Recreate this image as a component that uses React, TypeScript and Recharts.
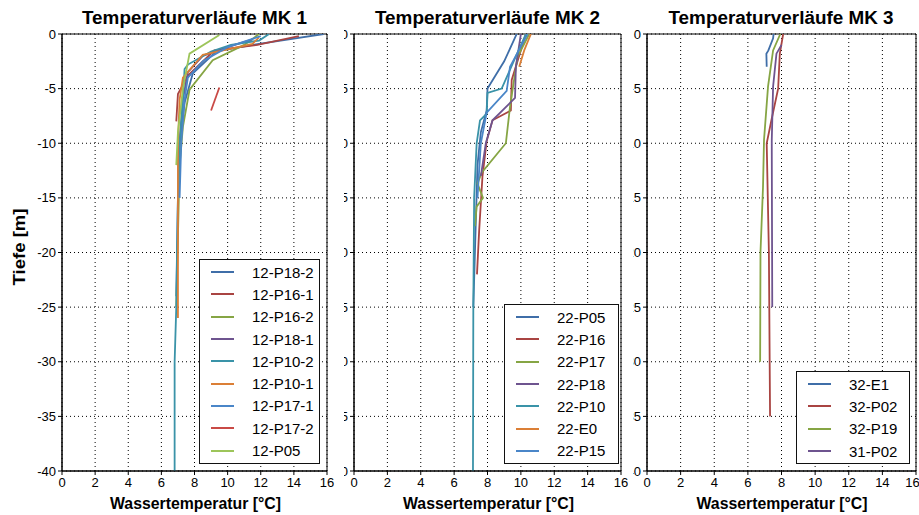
import React from "react";
import { CartesianGrid, Legend, Line, LineChart, ReferenceArea, XAxis, YAxis } from "recharts";

type Pt = [number, number];

const X_TICKS = [0, 2, 4, 6, 8, 10, 12, 14, 16];
const Y_TICKS = [0, -5, -10, -15, -20, -25, -30, -35, -40];
const TITLES = ["Temperaturverläufe MK 1", "Temperaturverläufe MK 2", "Temperaturverläufe MK 3"];
const X_LABEL = "Wassertemperatur [°C]";
const Y_LABEL = "Tiefe [m]";

// MK 1: [temperature °C, depth m]
const MK1_NAMES = ["12-P18-2", "12-P16-1", "12-P16-2", "12-P18-1", "12-P10-2", "12-P10-1", "12-P17-1", "12-P17-2", "12-P05"];
const P12_18_2: Pt[] = [[15.8, 0], [11.9, -0.9], [9.3, -1.6], [7.9, -3.6], [7.4, -6.3], [7.1, -10], [7.0, -15], [6.9, -24]];
const P12_16_1: Pt[] = [[14.3, -0.2], [11.8, -1.0], [9.2, -1.5], [7.6, -3.8], [7.0, -5.5], [6.9, -8]];
const P12_16_2: Pt[] = [[11.9, 0], [11.0, -1.0], [9.1, -2.4], [7.7, -5.1], [7.3, -8.5], [7.1, -12], [6.9, -25]];
const P12_18_1: Pt[] = [[11.5, -0.5], [10.0, -1.2], [8.5, -2.0], [7.6, -3.5], [7.3, -6], [7.1, -10], [7.0, -12]];
const P12_10_2: Pt[] = [[12.5, 0], [11.9, -0.6], [10.2, -1.0], [9.0, -1.6], [7.6, -2.8], [7.4, -3.2], [7.3, -6], [7.1, -10], [7.0, -15], [6.9, -25], [6.8, -30], [6.8, -40]];
const P12_10_1: Pt[] = [[11.9, -0.3], [11.5, -0.9], [8.5, -1.9], [7.3, -4.0], [7.1, -6], [7.0, -10], [7.0, -26]];
const P12_17_1: Pt[] = [[12.0, -0.2], [10.0, -1.2], [8.5, -2.5], [7.6, -4], [7.4, -6], [7.2, -10], [7.1, -15]];
const P12_17_2: Pt[] = [[9.5, -4.9], [9.0, -7.0]];
const P12_05: Pt[] = [[9.5, -0.1], [7.7, -1.8], [7.3, -5], [7.0, -9], [6.9, -12]];

// MK 2
const MK2_NAMES = ["22-P05", "22-P16", "22-P17", "22-P18", "22-P10", "22-E0", "22-P15"];
const P22_05: Pt[] = [[9.75, 0], [9.0, -2.5], [8.0, -5.0], [7.95, -7], [7.6, -9], [7.4, -12], [7.15, -25]];
const P22_16: Pt[] = [[10.3, 0], [9.9, -2], [9.45, -4.2], [9.4, -7.0], [8.3, -7.9], [7.95, -9.8], [7.7, -13], [7.5, -18], [7.37, -22]];
const P22_17: Pt[] = [[10.5, 0], [9.8, -2.1], [9.35, -6.65], [9.1, -10.0], [7.65, -12.7], [7.4, -13.7], [7.73, -15.0], [7.35, -15.8], [7.25, -17.6]];
const P22_18: Pt[] = [[10.0, 0], [9.7, -3], [9.65, -5.85], [8.3, -7.9], [7.9, -10], [7.6, -13]];
const P22_10: Pt[] = [[10.3, 0], [9.6, -2.4], [8.85, -5.0], [8.0, -5.4], [7.95, -7.3], [7.55, -7.9], [7.35, -10], [7.2, -15], [7.15, -25], [7.13, -40]];
const P22_E0: Pt[] = [[10.6, 0], [10.2, -1.5], [9.9, -3]];
const P22_15: Pt[] = [[10.4, 0], [9.35, -3], [9.15, -5.2], [7.95, -7.2], [7.6, -10], [7.4, -15]];

// MK 3
const MK3_NAMES = ["32-E1", "32-P02", "32-P19", "31-P02"];
const P32_E1: Pt[] = [[7.53, 0], [7.5, -0.4], [7.22, -1.5], [7.1, -1.8], [7.12, -3.0]];
const P32_P02: Pt[] = [[8.1, 0], [7.9, -1.8], [7.8, -5.0], [7.4, -7.9], [7.12, -10], [7.25, -20], [7.32, -35]];
const P32_P19: Pt[] = [[7.93, 0], [7.5, -1.5], [7.2, -4.8], [6.96, -9.7], [6.9, -14], [6.75, -20], [6.73, -30]];
const P31_P02: Pt[] = [[8.0, -1.0], [7.7, -1.8], [7.5, -4.8], [7.42, -9.8], [7.45, -25]];

const COLORS = ["#3f6ea8", "#a94442", "#86a544", "#6e548f", "#3a93a8", "#db7f36", "#4a86c8", "#c94a46", "#9dc55a"];

const FONT = '"Liberation Sans", Arial, sans-serif';
const TICK = { fill: "#000", fontSize: 13, fontFamily: FONT };

type PanelProps = {
  names: string[];
  series: Pt[][];
  left: number;
  width: number;
  mLeft: number;
  mRight: number;
  z: number;
  legend: { left: number; top: number; width: number };
};

function LegendBox({ payload, names }: any) {
  const items = [...(payload ?? [])].sort((a: any, b: any) => names.indexOf(a.value) - names.indexOf(b.value));
  return (
    <div style={{ border: "1px solid #111", background: "#fff", padding: "1px 0", fontFamily: FONT }}>
      {items.map((p: any) => (
        <div key={p.value} style={{ height: 22.3, display: "flex", alignItems: "center" }}>
          <span style={{ display: "inline-block", width: 23, height: 2, background: p.color, marginLeft: 11 }} />
          <span style={{ fontSize: 15, marginLeft: 18, color: "#000" }}>{p.value}</span>
        </div>
      ))}
    </div>
  );
}

function Panel({ names, series, left, width, mLeft, mRight, z, legend }: PanelProps) {
  return (
    <div style={{ position: "absolute", left, top: 0, width, height: 515, background: "#fff", zIndex: z }}>
      <LineChart width={width} height={515} margin={{ top: 34, right: mRight, bottom: 0, left: mLeft }}>
        <CartesianGrid stroke="#000" strokeDasharray="1 3" horizontalValues={Y_TICKS} verticalValues={X_TICKS} />
        <XAxis
          type="number"
          dataKey="t"
          domain={[0, 16]}
          ticks={X_TICKS}
          allowDataOverflow
          height={44}
          tick={TICK}
          tickSize={4}
          tickMargin={3}
          stroke="#000"
        />
        <YAxis
          type="number"
          dataKey="d"
          domain={[-40, 0]}
          ticks={Y_TICKS}
          allowDataOverflow
          width={32}
          tick={TICK}
          tickSize={4}
          tickMargin={2}
          stroke="#000"
        />
        <ReferenceArea x1={0} x2={16} y1={-40} y2={0} fill="none" stroke="#000" strokeWidth={1} />
        {series.map((pts, i) => (
          <Line
            key={names[i]}
            name={names[i]}
            data={pts.map(([t, d]) => ({ t, d }))}
            dataKey="d"
            type="linear"
            stroke={COLORS[i]}
            strokeWidth={1.8}
            dot={false}
            isAnimationActive={false}
          />
        ))}
        <Legend
          layout="vertical"
          verticalAlign="middle"
          align="center"
          content={<LegendBox names={names} />}
          wrapperStyle={{ left: legend.left, top: legend.top, width: legend.width }}
        />
      </LineChart>
    </div>
  );
}

export default function App() {
  const centers = [194.5, 487.5, 781];
  return (
    <div style={{ position: "absolute", left: 0, top: 0, width: 919, height: 515, background: "#fff", overflow: "hidden" }}>
      <Panel
        names={MK1_NAMES}
        series={[P12_18_2, P12_16_1, P12_16_2, P12_18_1, P12_10_2, P12_10_1, P12_17_1, P12_17_2, P12_05]}
        left={0}
        width={344}
        mLeft={30}
        mRight={17}
        z={3}
        legend={{ left: 199, top: 259, width: 121 }}
      />
      <Panel
        names={MK2_NAMES}
        series={[P22_05, P22_16, P22_17, P22_18, P22_10, P22_E0, P22_15]}
        left={310}
        width={323}
        mLeft={12}
        mRight={12}
        z={2}
        legend={{ left: 194, top: 304, width: 115 }}
      />
      <Panel
        names={MK3_NAMES}
        series={[P32_E1, P32_P02, P32_P19, P31_P02]}
        left={600}
        width={319}
        mLeft={15}
        mRight={3}
        z={1}
        legend={{ left: 196, top: 371, width: 114 }}
      />
      <svg width={919} height={515} style={{ position: "absolute", left: 0, top: 0, zIndex: 10, pointerEvents: "none" }}>
        {TITLES.map((t, i) => (
          <text key={t} x={centers[i]} y={24} textAnchor="middle" fontFamily={FONT} fontWeight="bold" fontSize={18} textLength={225} lengthAdjust="spacingAndGlyphs">
            {t}
          </text>
        ))}
        {centers.map((c) => (
          <text key={c} x={c + 1} y={509} textAnchor="middle" fontFamily={FONT} fontWeight="bold" fontSize={16} textLength={171} lengthAdjust="spacingAndGlyphs">
            {X_LABEL}
          </text>
        ))}
        <text x={25} y={247} transform="rotate(-90 25 247)" textAnchor="middle" fontFamily={FONT} fontWeight="bold" fontSize={16} textLength={77} lengthAdjust="spacingAndGlyphs">
          {Y_LABEL}
        </text>
      </svg>
    </div>
  );
}
